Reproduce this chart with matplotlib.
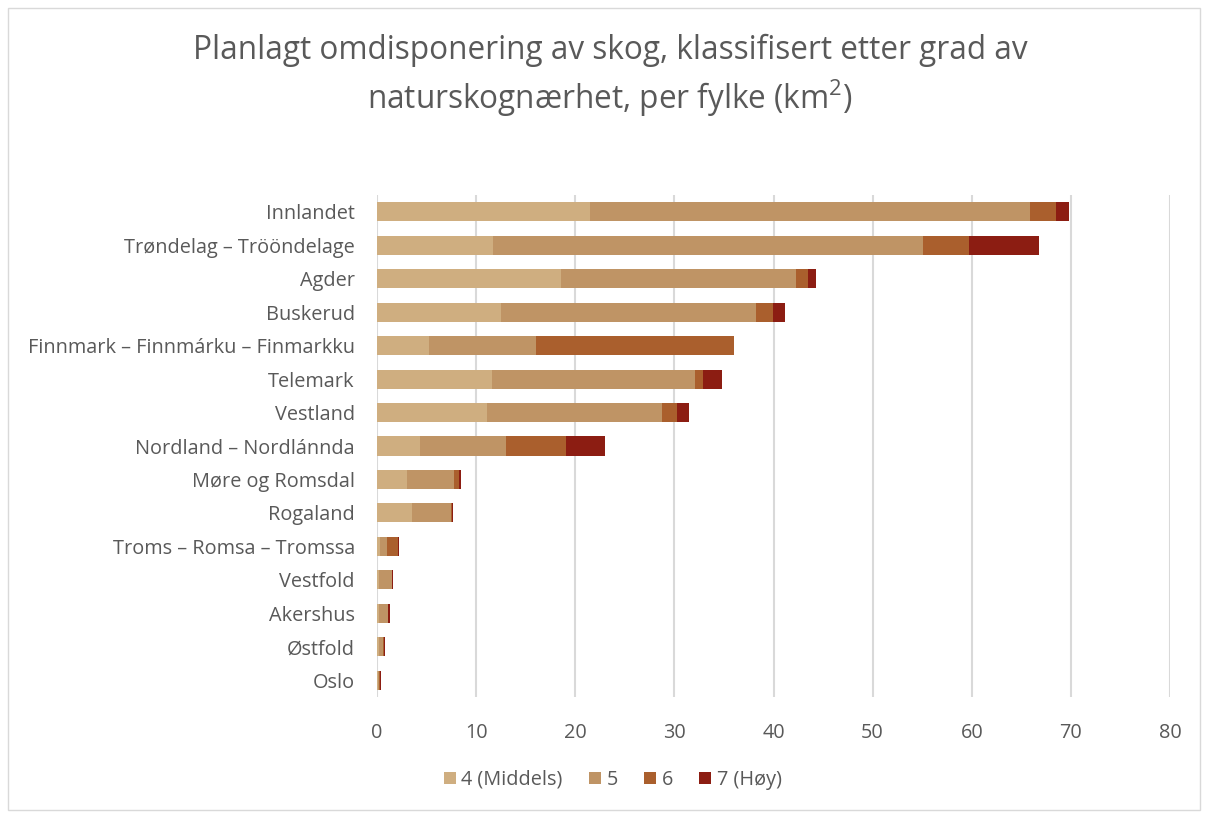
import matplotlib
matplotlib.use("Agg")
import matplotlib.pyplot as plt
import numpy as np
from matplotlib.patches import Rectangle

plt.rcParams['font.family'] = ['Open Sans', 'DejaVu Sans']

categories = ["Innlandet", "Trøndelag – Trööndelage", "Agder", "Buskerud",
              "Finnmark – Finnmárku – Finmarkku", "Telemark", "Vestland",
              "Nordland – Nordlánnda", "Møre og Romsdal", "Rogaland",
              "Troms – Romsa – Tromssa", "Vestfold", "Akershus", "Østfold", "Oslo"]

s4 = [21.5, 11.7, 18.6, 12.5, 5.2, 11.6, 11.1, 4.3, 3.0, 3.5, 0.3, 0.2, 0.2, 0.2, 0.1]
s5 = [44.4, 43.4, 23.7, 25.7, 10.8, 20.5, 17.7, 8.7, 4.8, 4.0, 0.7, 1.3, 0.9, 0.4, 0.1]
s6 = [2.6, 4.6, 1.2, 1.7, 20.0, 0.8, 1.5, 6.1, 0.5, 0.05, 1.1, 0.05, 0.05, 0.1, 0.1]
s7 = [1.3, 7.1, 0.8, 1.3, 0.05, 1.9, 1.2, 3.9, 0.15, 0.15, 0.1, 0.1, 0.15, 0.1, 0.1]
series_names = ["4 (Middels)", "5", "6", "7 (Høy)"]
colors = ["#CFAE80", "#BF9465", "#AA5F2D", "#8C1D12"]
xticks = [0, 10, 20, 30, 40, 50, 60, 70, 80]

fig = plt.figure(figsize=(12.06, 8.14), dpi=100)
ax = fig.add_axes([377/1206, 1-697/814, (1170-377)/1206, (697-195)/814])

y = np.arange(len(categories))
left = np.zeros(len(categories))
for vals, name, c in zip([s4, s5, s6, s7], series_names, colors):
    ax.barh(y, vals, left=left, height=0.57, color=c, label=name, zorder=3)
    left = left + np.array(vals)

ax.set_ylim(len(categories) - 0.5, -0.5)
ax.set_xlim(0, 80)
ax.set_xticks(xticks)
ax.set_xticklabels([str(t) for t in xticks])
ax.set_yticks(y)
ax.set_yticklabels(categories)
ax.tick_params(axis='both', length=0, colors='#595959', labelsize=14.3)
ax.tick_params(axis='x', pad=19)
ax.tick_params(axis='y', pad=16)
for s in ax.spines.values():
    s.set_visible(False)
ax.grid(axis='x', color='#D9D9D9', linewidth=1.5, zorder=0)

fig.text(0.506, 1-50/814, "Planlagt omdisponering av skog, klassifisert etter grad av",
         ha='center', va='center', fontsize=22.7, color='#595959')
fig.text(0.506, 1-98/814, r"naturskognærhet, per fylke (km$^\mathregular{2}$)",
         ha='center', va='center', fontsize=22.7, color='#595959')

leg = fig.legend(loc='center', bbox_to_anchor=(0.508, 1-780/814), ncol=4, frameon=False,
                 fontsize=14.3, handlelength=0.6, handleheight=0.6, handletextpad=0.3,
                 columnspacing=1.3, labelcolor='#595959')

fig.patches.append(Rectangle((8/1206, 0.005), (1200-8)/1206, 1-0.005-8/814,
                             transform=fig.transFigure, fill=False,
                             edgecolor='#D9D9D9', linewidth=1))

fig.savefig("out.png", dpi=100)
